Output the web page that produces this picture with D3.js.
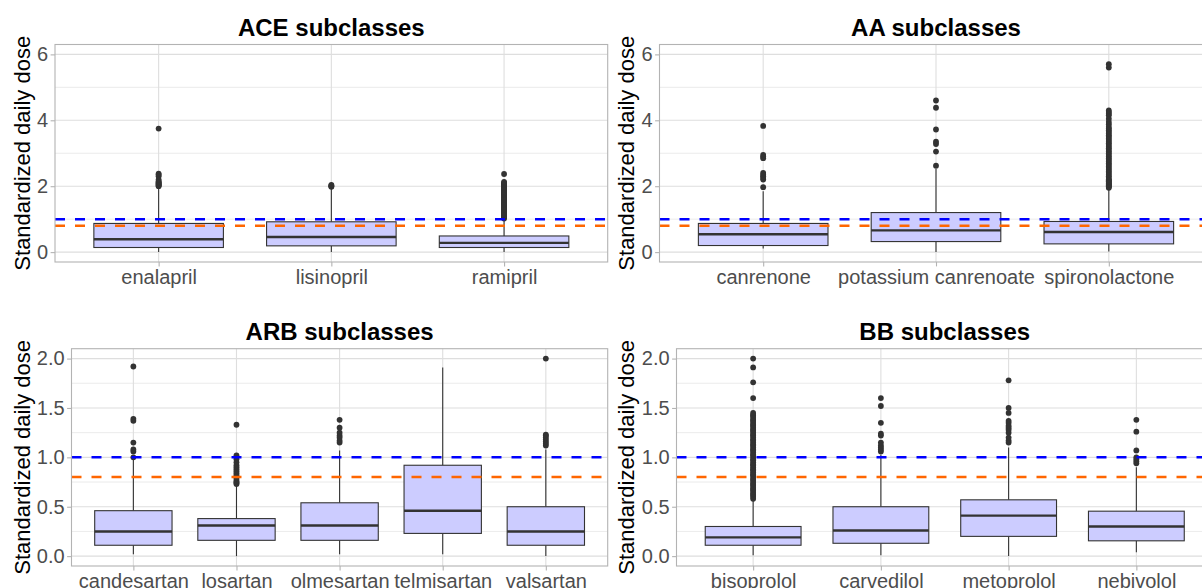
<!DOCTYPE html>
<html>
<head>
<meta charset="utf-8">
<script src="https://cdn.jsdelivr.net/npm/d3@7"></script>
<style>
  html, body { margin: 0; padding: 0; background: #ffffff; }
  svg { display: block; font-family: "Liberation Sans", Arial, sans-serif; }
</style>
</head>
<body>
<svg id="chart" width="1202" height="588"></svg>
<script>
// ---- ACE inhibitors ----
const aceCats = ["enalapril", "lisinopril", "ramipril"];
const aceLow = [0.0, 0.0, 0.0];
const aceQ1 = [0.14, 0.19, 0.14];
const aceMed = [0.39, 0.46, 0.28];
const aceQ3 = [0.87, 0.92, 0.49];
const aceHigh = [1.95, 1.95, 1.0];
const aceOut = [
  [2.0, 2.02, 2.04, 2.06, 2.08, 2.1, 2.12, 2.15, 2.2, 2.3, 2.35, 2.38, 3.75],
  [1.98, 2.0, 2.02, 2.04],
  [1.02, 1.05, 1.08, 1.1, 1.13, 1.15, 1.18, 1.2, 1.23, 1.25, 1.28, 1.3, 1.33, 1.35, 1.38, 1.4,
   1.43, 1.45, 1.48, 1.5, 1.53, 1.55, 1.58, 1.6, 1.63, 1.65, 1.68, 1.7, 1.73, 1.75, 1.78, 1.8,
   1.83, 1.85, 1.88, 1.9, 1.93, 1.95, 1.98, 2.0, 2.03, 2.05, 2.08, 2.1, 2.13, 2.37]
];

// ---- Aldosterone antagonists ----
const aaCats = ["canrenone", "potassium canrenoate", "spironolactone"];
const aaLow = [0.11, 0.0, 0.02];
const aaQ1 = [0.2, 0.32, 0.25];
const aaMed = [0.54, 0.66, 0.61];
const aaQ3 = [0.87, 1.2, 0.93];
const aaHigh = [1.85, 2.52, 1.92];
const aaOut = [
  [1.97, 2.2, 2.25, 2.3, 2.35, 2.4, 2.85, 2.9, 2.95, 3.83],
  [2.62, 3.05, 3.28, 3.35, 3.72, 4.38, 4.6],
  [1.95, 1.98, 2.0, 2.03, 2.05, 2.08, 2.1, 2.13, 2.15, 2.18, 2.2, 2.25, 2.3, 2.35, 2.4, 2.45,
   2.5, 2.55, 2.6, 2.65, 2.7, 2.75, 2.8, 2.85, 2.9, 2.95, 3.0, 3.05, 3.1, 3.15, 3.2, 3.25,
   3.3, 3.35, 3.4, 3.45, 3.5, 3.55, 3.6, 3.65, 3.7, 3.75, 3.8, 3.88, 3.95, 4.05, 4.15, 4.2,
   4.25, 4.3, 5.6, 5.7]
];

// ---- Angiotensin receptor blockers ----
const arbCats = ["candesartan", "losartan", "olmesartan", "telmisartan", "valsartan"];
const arbLow = [0.02, 0.0, 0.02, 0.02, 0.0];
const arbQ1 = [0.11, 0.16, 0.16, 0.23, 0.11];
const arbMed = [0.25, 0.31, 0.31, 0.46, 0.25];
const arbQ3 = [0.46, 0.38, 0.54, 0.92, 0.5];
const arbHigh = [0.98, 0.71, 1.07, 1.91, 1.08];
const arbOut = [
  [1.0, 1.06, 1.08, 1.15, 1.37, 1.39, 1.92],
  [0.73, 0.74, 0.75, 0.76, 0.78, 0.8, 0.82, 0.84, 0.86, 0.88, 0.9, 0.92, 0.95, 0.98, 1.0, 1.02, 1.33],
  [1.15, 1.17, 1.2, 1.22, 1.25, 1.3, 1.38],
  [],
  [1.12, 1.14, 1.16, 1.18, 1.2, 1.22, 1.23, 2.0]
];

// ---- Beta blockers ----
const bbCats = ["bisoprolol", "carvedilol", "metoprolol", "nebivolol"];
const bbLow = [0.01, 0.01, 0.0, 0.04];
const bbQ1 = [0.11, 0.13, 0.2, 0.155];
const bbMed = [0.19, 0.26, 0.41, 0.3];
const bbQ3 = [0.3, 0.5, 0.57, 0.455];
const bbHigh = [0.57, 1.03, 1.1, 0.9];
const bbOut = [
  [0.58, 0.6, 0.62, 0.63, 0.65, 0.67, 0.68, 0.7, 0.72, 0.73, 0.75, 0.77, 0.78, 0.8, 0.82, 0.83,
   0.85, 0.87, 0.88, 0.9, 0.92, 0.93, 0.95, 0.97, 0.98, 1.0, 1.02, 1.03, 1.05, 1.07, 1.08, 1.1,
   1.12, 1.13, 1.15, 1.17, 1.18, 1.2, 1.22, 1.23, 1.25, 1.27, 1.28, 1.3, 1.32, 1.33, 1.35, 1.37,
   1.38, 1.4, 1.42, 1.43, 1.45, 1.6, 1.76, 1.91, 2.0],
  [1.06, 1.08, 1.1, 1.12, 1.15, 1.22, 1.24, 1.35, 1.52, 1.6],
  [1.15, 1.17, 1.2, 1.25, 1.28, 1.3, 1.32, 1.35, 1.37, 1.45, 1.5, 1.78],
  [0.94, 0.96, 0.98, 1.0, 1.07, 1.26, 1.38]
];

// Reference lines and y-axis ticks
const refBlue = 1.0;
const refOrange = 0.8;
const topTicks = [0, 2, 4, 6];
const topMinor = [1, 3, 5];
const bottomTicks = [0, 0.5, 1.0, 1.5, 2.0];
const bottomMinor = [0.25, 0.75, 1.25, 1.75];

function buildRows(cats, low, q1, med, q3, high, out) {
  return cats.map((c, i) => ({
    cat: c, low: low[i], q1: q1[i], med: med[i], q3: q3[i], high: high[i], out: out[i]
  }));
}

const svg = d3.select("#chart");
svg.append("rect").attr("width", 1202).attr("height", 588).attr("fill", "#ffffff");

function drawPanel(opts) {
  const { title, rows, left, right, top, bottom, domain, ticks, minor, fmt, titleY, yTitleX } = opts;
  const g = svg.append("g");

  const x = d3.scalePoint().domain(rows.map(d => d.cat)).range([left, right]).padding(0.6);
  const y = d3.scaleLinear().domain(domain).range([bottom, top]);
  const boxW = x.step() * 0.75;

  // grid
  const grid = g.append("g");
  grid.selectAll("line.minor").data(minor).join("line")
    .attr("x1", left).attr("x2", right)
    .attr("y1", d => y(d)).attr("y2", d => y(d))
    .attr("stroke", "#DEDEDE").attr("stroke-width", 0.6);
  grid.selectAll("line.majory").data(ticks).join("line")
    .attr("x1", left).attr("x2", right)
    .attr("y1", d => y(d)).attr("y2", d => y(d))
    .attr("stroke", "#DEDEDE").attr("stroke-width", 1.1);
  grid.selectAll("line.majorx").data(rows).join("line")
    .attr("x1", d => x(d.cat)).attr("x2", d => x(d.cat))
    .attr("y1", top).attr("y2", bottom)
    .attr("stroke", "#DEDEDE").attr("stroke-width", 1.1);

  // boxplots
  const b = g.append("g").selectAll("g").data(rows).join("g");
  b.append("line")
    .attr("x1", d => x(d.cat)).attr("x2", d => x(d.cat))
    .attr("y1", d => y(d.q3)).attr("y2", d => y(d.high))
    .attr("stroke", "#333333").attr("stroke-width", 1.1);
  b.append("line")
    .attr("x1", d => x(d.cat)).attr("x2", d => x(d.cat))
    .attr("y1", d => y(d.q1)).attr("y2", d => y(d.low))
    .attr("stroke", "#333333").attr("stroke-width", 1.1);
  b.append("rect")
    .attr("x", d => x(d.cat) - boxW / 2).attr("width", boxW)
    .attr("y", d => y(d.q3)).attr("height", d => y(d.q1) - y(d.q3))
    .attr("fill", "#CCCCFF").attr("stroke", "#333333").attr("stroke-width", 1.1);
  b.append("line")
    .attr("x1", d => x(d.cat) - boxW / 2).attr("x2", d => x(d.cat) + boxW / 2)
    .attr("y1", d => y(d.med)).attr("y2", d => y(d.med))
    .attr("stroke", "#333333").attr("stroke-width", 2.4);
  b.selectAll("circle").data(d => d.out.map(v => ({ cat: d.cat, v }))).join("circle")
    .attr("cx", d => x(d.cat)).attr("cy", d => y(d.v)).attr("r", 2.9)
    .attr("fill", "#333333");

  // reference lines
  [[refBlue, "#0000FF"], [refOrange, "#FF6600"]].forEach(([v, c]) => {
    g.append("line")
      .attr("x1", left).attr("x2", right)
      .attr("y1", y(v)).attr("y2", y(v))
      .attr("stroke", c).attr("stroke-width", 2.5)
      .attr("stroke-dasharray", "10,10");
  });

  // border
  g.append("rect")
    .attr("x", left).attr("y", top).attr("width", right - left).attr("height", bottom - top)
    .attr("fill", "none").attr("stroke", "#B3B3B3").attr("stroke-width", 1.1);

  // axes
  const ya = g.append("g").attr("transform", `translate(${left},0)`)
    .call(d3.axisLeft(y).tickValues(ticks).tickFormat(fmt).tickSize(4.4).tickPadding(2.5));
  const xa = g.append("g").attr("transform", `translate(0,${bottom})`)
    .call(d3.axisBottom(x).tickSize(4.4).tickPadding(3));
  [ya, xa].forEach(a => {
    a.select(".domain").remove();
    a.selectAll(".tick line").attr("stroke", "#B3B3B3").attr("stroke-width", 1.1);
    a.selectAll(".tick text").attr("fill", "#4D4D4D")
      .style("font-size", "20px").style("font-family", "'Liberation Sans', Arial, sans-serif");
  });

  // titles
  g.append("text").attr("x", (left + right) / 2).attr("y", titleY)
    .attr("text-anchor", "middle").style("font-size", "24px").style("font-weight", "bold")
    .attr("fill", "#000000").text(title);
  g.append("text")
    .attr("transform", `translate(${yTitleX},${(top + bottom) / 2}) rotate(-90)`)
    .attr("text-anchor", "middle").style("font-size", "22px")
    .attr("fill", "#000000").text("Standardized daily dose");
}

const fmtTop = d3.format("d");
const fmtBottom = d3.format(".1f");

drawPanel({
  title: "ACE subclasses",
  rows: buildRows(aceCats, aceLow, aceQ1, aceMed, aceQ3, aceHigh, aceOut),
  left: 55, right: 607.7, top: 44.5, bottom: 262,
  domain: [-0.3, 6.3], ticks: topTicks, minor: topMinor, fmt: fmtTop,
  titleY: 36, yTitleX: 30
});
drawPanel({
  title: "AA subclasses",
  rows: buildRows(aaCats, aaLow, aaQ1, aaMed, aaQ3, aaHigh, aaOut),
  left: 659.5, right: 1212.5, top: 44.5, bottom: 262,
  domain: [-0.3, 6.3], ticks: topTicks, minor: topMinor, fmt: fmtTop,
  titleY: 36, yTitleX: 634
});
drawPanel({
  title: "ARB subclasses",
  rows: buildRows(arbCats, arbLow, arbQ1, arbMed, arbQ3, arbHigh, arbOut),
  left: 71.5, right: 607.7, top: 348.7, bottom: 566,
  domain: [-0.1, 2.1], ticks: bottomTicks, minor: bottomMinor, fmt: fmtBottom,
  titleY: 340, yTitleX: 30
});
drawPanel({
  title: "BB subclasses",
  rows: buildRows(bbCats, bbLow, bbQ1, bbMed, bbQ3, bbHigh, bbOut),
  left: 676.5, right: 1213, top: 348.7, bottom: 566,
  domain: [-0.1, 2.1], ticks: bottomTicks, minor: bottomMinor, fmt: fmtBottom,
  titleY: 340, yTitleX: 634
});
</script>
</body>
</html>
